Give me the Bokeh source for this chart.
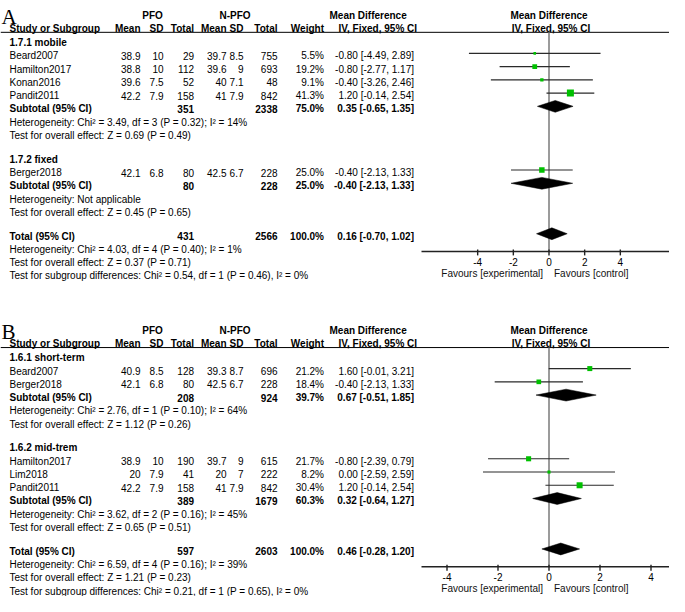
import math
from bokeh.plotting import figure
from bokeh.models import Range1d
from bokeh.core.properties import value
from bokeh.embed import file_html
from bokeh.resources import INLINE

# ---------------- data: panel A ----------------
A_label = "A"
A_groups = ["1.7.1 mobile", "1.7.2 fixed"]
A_study = ["Beard2007", "Hamilton2017", "Konan2016", "Pandit2011", "Berger2018"]
A_group = [0, 0, 0, 0, 1]
A_pfo_mean = [38.9, 38.8, 39.6, 42.2, 42.1]
A_pfo_sd = [10, 10, 7.5, 7.9, 6.8]
A_pfo_n = [29, 112, 52, 158, 80]
A_npfo_mean = [39.7, 39.6, 40, 41, 42.5]
A_npfo_sd = [8.5, 9, 7.1, 7.9, 6.7]
A_npfo_n = [755, 693, 48, 842, 228]
A_weight = [5.5, 19.2, 9.1, 41.3, 25.0]
A_md = [-0.80, -0.80, -0.40, 1.20, -0.40]
A_lo = [-4.49, -2.77, -3.26, -0.14, -2.13]
A_hi = [2.89, 1.17, 2.46, 2.54, 1.33]
A_sub_pfo_n = [351, 80]
A_sub_npfo_n = [2338, 228]
A_sub_weight = [75.0, 25.0]
A_sub_md = [0.35, -0.40]
A_sub_lo = [-0.65, -2.13]
A_sub_hi = [1.35, 1.33]
A_sub_het = ["Heterogeneity: Chi\u00b2 = 3.49, df = 3 (P = 0.32); I\u00b2 = 14%",
             "Heterogeneity: Not applicable"]
A_sub_test = ["Test for overall effect: Z = 0.69 (P = 0.49)",
              "Test for overall effect: Z = 0.45 (P = 0.65)"]
A_total = [431, 2566, 100.0, 0.16, -0.70, 1.02]
A_total_notes = ["Heterogeneity: Chi\u00b2 = 4.03, df = 4 (P = 0.40); I\u00b2 = 1%",
                 "Test for overall effect: Z = 0.37 (P = 0.71)",
                 "Test for subgroup differences: Chi\u00b2 = 0.54, df = 1 (P = 0.46), I\u00b2 = 0%"]
A_ticks = [-4, -2, 0, 2, 4]
A_axis = [-7.15, 7.15]

# ---------------- data: panel B ----------------
B_label = "B"
B_groups = ["1.6.1 short-term", "1.6.2 mid-trem"]
B_study = ["Beard2007", "Berger2018", "Hamilton2017", "Lim2018", "Pandit2011"]
B_group = [0, 0, 1, 1, 1]
B_pfo_mean = [40.9, 42.1, 38.9, 20, 42.2]
B_pfo_sd = [8.5, 6.8, 10, 7.9, 7.9]
B_pfo_n = [128, 80, 190, 41, 158]
B_npfo_mean = [39.3, 42.5, 39.7, 20, 41]
B_npfo_sd = [8.7, 6.7, 9, 7, 7.9]
B_npfo_n = [696, 228, 615, 222, 842]
B_weight = [21.2, 18.4, 21.7, 8.2, 30.4]
B_md = [1.60, -0.40, -0.80, 0.00, 1.20]
B_lo = [-0.01, -2.13, -2.39, -2.59, -0.14]
B_hi = [3.21, 1.33, 0.79, 2.59, 2.54]
B_sub_pfo_n = [208, 389]
B_sub_npfo_n = [924, 1679]
B_sub_weight = [39.7, 60.3]
B_sub_md = [0.67, 0.32]
B_sub_lo = [-0.51, -0.64]
B_sub_hi = [1.85, 1.27]
B_sub_het = ["Heterogeneity: Chi\u00b2 = 2.76, df = 1 (P = 0.10); I\u00b2 = 64%",
             "Heterogeneity: Chi\u00b2 = 3.62, df = 2 (P = 0.16); I\u00b2 = 45%"]
B_sub_test = ["Test for overall effect: Z = 1.12 (P = 0.26)",
              "Test for overall effect: Z = 0.65 (P = 0.51)"]
B_total = [597, 2603, 100.0, 0.46, -0.28, 1.20]
B_total_notes = ["Heterogeneity: Chi\u00b2 = 6.59, df = 4 (P = 0.16); I\u00b2 = 39%",
                 "Test for overall effect: Z = 1.21 (P = 0.23)",
                 "Test for subgroup differences: Chi\u00b2 = 0.21, df = 1 (P = 0.65), I\u00b2 = 0%"]
B_ticks = [-4, -2, 0, 2, 4]
B_axis = [-5, 5]

# ---------------- shared labels ----------------
HEAD_GROUPS = ["PFO", "N-PFO"]
HEAD_COLS = ["Mean", "SD", "Total", "Mean", "SD", "Total", "Weight"]
MD_HEAD = ["Mean Difference", "IV, Fixed, 95% CI"]
STUDY_HEAD = "Study or Subgroup"
TOTAL_LABEL = "Total (95% CI)"
SUBTOTAL_LABEL = "Subtotal (95% CI)"
FAVOURS = ["Favours [experimental]", "Favours [control]"]

# ---------------- layout ----------------
W, H = 669, 596
X0, X1 = 0, 669
Y_TOP, Y_BOT = 0, 605
SANS = "Liberation Sans"
SERIF = "Liberation Serif"
FS = "10px"
STEP = 13.45
GAP = 24.3
MARK_DY = 2.5
DIAM_H = 6.0
F_LEFT, F_RIGHT = 421, 676
COL_RIGHT = [140, 163, 193.5, 226, 243, 277, 323.5]
GROUP_CENTER = [152, 234.5]
MD_TXT_RIGHT = 413.5
LEFT_X = 9
GREEN = "#00C000"


def fnum(v):
    return f"{v:g}"


def fmd(m, lo, hi):
    return f"{m:.2f} [{lo:.2f}, {hi:.2f}]"


p = figure(width=W, height=H, x_range=Range1d(X0, X1), y_range=Range1d(Y_BOT, Y_TOP),
           output_backend="svg", toolbar_location=None, min_border=0,
           x_axis_type=None, y_axis_type=None, background_fill_color="white",
           border_fill_color="white")
p.grid.visible = False
p.outline_line_color = None

texts = {}


def T(x, y, s, bold=False, align="left"):
    key = ("bold" if bold else "normal", align)
    d = texts.setdefault(key, {"x": [], "y": [], "text": []})
    d["x"].append(x)
    d["y"].append(y)
    d["text"].append(s)


def add_range(name, axis):
    ppu = (F_RIGHT - F_LEFT) / (axis[1] - axis[0])
    start = axis[0] - (F_LEFT - X0) / ppu
    end = axis[1] + (X1 - F_RIGHT) / ppu
    p.extra_x_ranges[name] = Range1d(start, end)


def draw_panel(rng, top, label_baseline, label, groups, study, group, pm, psd, pn,
               nm, nsd, nn, wt, md, lo, hi, spn, snn, swt, smd, slo, shi,
               shet, stest, total, tnotes, ticks, axis):
    add_range(rng, axis)
    # panel letter
    p.text(x=[1], y=[label_baseline], text=[label], text_font=value(SERIF),
           text_font_size="21px", text_baseline="alphabetic", text_align="left",
           text_color="black")
    y_h1 = top + 11
    y_h2 = top + 24.3
    y_ul = top + 28.3
    # headers
    for c, s in zip(GROUP_CENTER, HEAD_GROUPS):
        T(c, y_h1, s, bold=True, align="center")
    T(329, y_h1, MD_HEAD[0], bold=True)
    T(LEFT_X, y_h2, STUDY_HEAD, bold=True)
    for c, s in zip(COL_RIGHT, HEAD_COLS):
        T(c, y_h2, s, bold=True, align="right")
    T(338, y_h2, MD_HEAD[1], bold=True)
    p.text(x=[0], y=[y_h1], text=[MD_HEAD[0]], x_range_name=rng, text_font=value(SANS),
           text_font_size=FS, text_font_style="bold", text_align="center",
           text_baseline="middle", text_color="black")
    p.text(x=[0], y=[y_h2], text=[MD_HEAD[1]], x_range_name=rng, x_offset=2,
           text_font=value(SANS), text_font_size=FS, text_font_style="bold",
           text_align="center", text_baseline="middle", text_color="black")
    p.segment(x0=[X0], x1=[X1], y0=[y_ul], y1=[y_ul], line_color="black", line_width=1)

    ci_x0, ci_x1, ci_y = [], [], []
    sq_x, sq_y, sq_s = [], [], []
    dia_xs, dia_ys = [], []

    def diamond(m, l, h, y):
        dia_xs.append([l, m, h, m])
        dia_ys.append([y, y - DIAM_H, y, y + DIAM_H])

    y = top + 38.7
    for gi, gname in enumerate(groups):
        T(LEFT_X, y, gname, bold=True)
        y += STEP
        for i in range(len(study)):
            if group[i] != gi:
                continue
            T(LEFT_X, y, study[i])
            vals = [fnum(pm[i]), fnum(psd[i]), fnum(pn[i]), fnum(nm[i]), fnum(nsd[i]),
                    fnum(nn[i]), f"{wt[i]:.1f}%"]
            for c, s in zip(COL_RIGHT, vals):
                T(c, y, s, align="right")
            T(MD_TXT_RIGHT, y, fmd(md[i], lo[i], hi[i]), align="right")
            ci_x0.append(lo[i]); ci_x1.append(hi[i]); ci_y.append(y - MARK_DY)
            sq_x.append(md[i]); sq_y.append(y - MARK_DY); sq_s.append(1.09 * math.sqrt(wt[i]))
            y += STEP
        T(LEFT_X, y, SUBTOTAL_LABEL, bold=True)
        T(COL_RIGHT[2], y, fnum(spn[gi]), bold=True, align="right")
        T(COL_RIGHT[5], y, fnum(snn[gi]), bold=True, align="right")
        T(COL_RIGHT[6], y, f"{swt[gi]:.1f}%", bold=True, align="right")
        T(MD_TXT_RIGHT, y, fmd(smd[gi], slo[gi], shi[gi]), bold=True, align="right")
        diamond(smd[gi], slo[gi], shi[gi], y - MARK_DY)
        y += STEP
        T(LEFT_X, y, shet[gi])
        y += STEP
        T(LEFT_X, y, stest[gi])
        y += GAP
    y_total = y
    T(LEFT_X, y, TOTAL_LABEL, bold=True)
    T(COL_RIGHT[2], y, fnum(total[0]), bold=True, align="right")
    T(COL_RIGHT[5], y, fnum(total[1]), bold=True, align="right")
    T(COL_RIGHT[6], y, f"{total[2]:.1f}%", bold=True, align="right")
    T(MD_TXT_RIGHT, y, fmd(total[3], total[4], total[5]), bold=True, align="right")
    diamond(total[3], total[4], total[5], y - MARK_DY)
    for note in tnotes:
        y += STEP
        T(LEFT_X, y, note)

    y_axis = y_total + 15.5
    # zero line
    p.segment(x0=[0], x1=[0], y0=[y_ul], y1=[y_axis], x_range_name=rng,
              line_color="#7a7a7a", line_width=1.5)
    # CI lines
    p.segment(x0=ci_x0, x1=ci_x1, y0=ci_y, y1=ci_y, x_range_name=rng,
              line_color="#2a2a2a", line_width=1.1)
    p.scatter(x=sq_x, y=sq_y, size=sq_s, marker="square", x_range_name=rng,
              fill_color=GREEN, line_color=None)
    p.patches(xs=dia_xs, ys=dia_ys, x_range_name=rng, fill_color="black",
              line_color="black", line_width=0.5)
    # axis
    p.segment(x0=[axis[0]], x1=[axis[1]], y0=[y_axis], y1=[y_axis], x_range_name=rng,
              line_color="#222222", line_width=1.4)
    p.segment(x0=ticks, x1=ticks, y0=[y_axis - 2] * len(ticks), y1=[y_axis + 4] * len(ticks),
              x_range_name=rng, line_color="#222222", line_width=1.4)
    p.text(x=ticks, y=[y_axis + 10.5] * len(ticks), text=[str(t) for t in ticks],
           x_range_name=rng, text_font=value(SANS), text_font_size=FS,
           text_align="center", text_baseline="middle", text_color="black")
    p.text(x=[0], y=[y_axis + 22.5], text=[FAVOURS[0]], x_range_name=rng, x_offset=-6,
           text_font=value(SANS), text_font_size=FS, text_align="right",
           text_baseline="middle", text_color="#111111")
    p.text(x=[0], y=[y_axis + 22.5], text=[FAVOURS[1]], x_range_name=rng, x_offset=5,
           text_font=value(SANS), text_font_size=FS, text_align="left",
           text_baseline="middle", text_color="#111111")


draw_panel("fa", 4, 17, A_label, A_groups, A_study, A_group, A_pfo_mean, A_pfo_sd,
           A_pfo_n, A_npfo_mean, A_npfo_sd, A_npfo_n, A_weight, A_md, A_lo, A_hi,
           A_sub_pfo_n, A_sub_npfo_n, A_sub_weight, A_sub_md, A_sub_lo, A_sub_hi,
           A_sub_het, A_sub_test, A_total, A_total_notes, A_ticks, A_axis)
draw_panel("fb", 324, 336, B_label, B_groups, B_study, B_group, B_pfo_mean, B_pfo_sd,
           B_pfo_n, B_npfo_mean, B_npfo_sd, B_npfo_n, B_weight, B_md, B_lo, B_hi,
           B_sub_pfo_n, B_sub_npfo_n, B_sub_weight, B_sub_md, B_sub_lo, B_sub_hi,
           B_sub_het, B_sub_test, B_total, B_total_notes, B_ticks, B_axis)

for (style, align), d in texts.items():
    p.text(x=d["x"], y=d["y"], text=d["text"], text_font=value(SANS), text_font_size=FS,
           text_font_style=style, text_align=align, text_baseline="middle",
           text_color="black")

open("out.html", "w").write(file_html(p, INLINE))
